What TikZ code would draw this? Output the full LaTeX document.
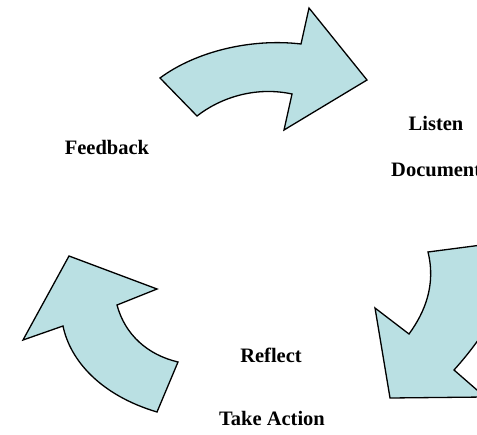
\documentclass[tikz,border=0pt]{standalone}
\usepackage{fontspec}
\setmainfont{Liberation Serif}
\definecolor{arrowfill}{HTML}{BAE0E3}
\begin{document}
\begin{tikzpicture}[x=1bp,y=-1bp,
  bentarrow/.style={draw=black,line width=1.3bp,fill=arrowfill,line join=miter},
  label/.style={font=\bfseries\fontsize{20.5bp}{24bp}\selectfont,inner sep=0pt}]
\useasboundingbox (0,0) rectangle (477,435);
\clip (0,0) rectangle (477,435);

% upper arrow, pointing right
\draw[bentarrow] (160,78) .. controls (195,52) and (250,38) .. (301,44)
  -- (309,8) -- (367,80) -- (284,130) -- (292,94)
  .. controls (255,86) and (220,98) .. (197,116) -- cycle;

% right arrow, pointing down (runs past the right edge)
\draw[bentarrow] (428,252) .. controls (436,285) and (425,312) .. (409,334)
  -- (375,308) -- (390,398) -- (485,397) -- (454,370)
  .. controls (490,330) and (515,285) .. (520,240) -- cycle;

% left arrow, pointing up
\draw[bentarrow] (69,256) -- (157,289) -- (117,305)
  .. controls (125,335) and (148,355) .. (178,362)
  -- (157,412) .. controls (100,395) and (70,360) .. (63,326)
  -- (23,340) -- cycle;

% step labels
\node[label] (listen)   at (436,123) {Listen};
\node[label,anchor=west] (document) at (391,170) {Document};
\node[label] (feedback) at (107,147) {Feedback};
\node[label] (reflect)  at (271,355) {Reflect};
\node[label] (action)   at (272,418) {Take Action};
\end{tikzpicture}
\end{document}
